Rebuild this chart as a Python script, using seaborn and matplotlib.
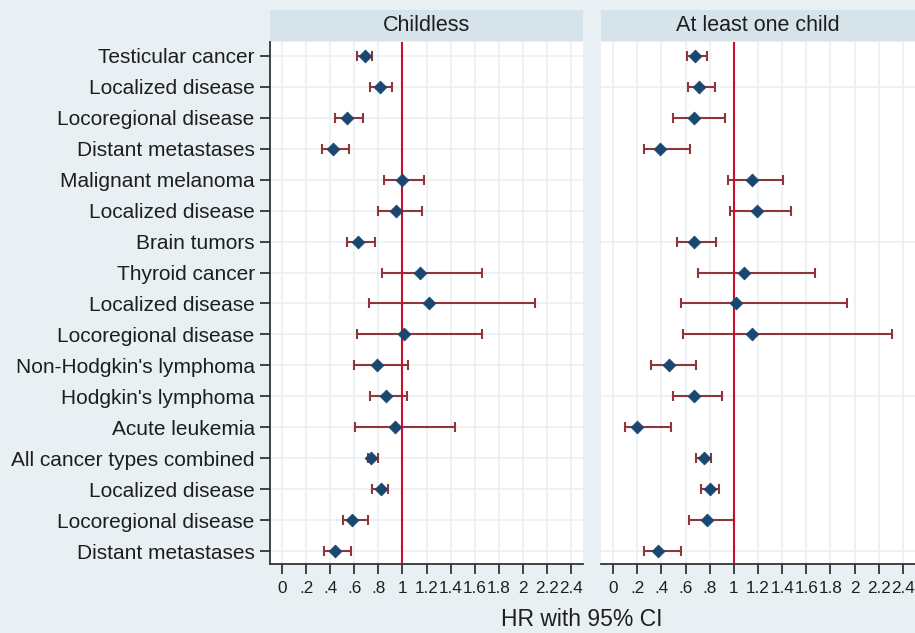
import numpy as np
import pandas as pd
import matplotlib
matplotlib.use("Agg")
import matplotlib.pyplot as plt
from matplotlib.patches import Rectangle
import seaborn as sns

# ---------------- data ----------------
labels = ["Testicular cancer", "Localized disease", "Locoregional disease",
          "Distant metastases", "Malignant melanoma", "Localized disease",
          "Brain tumors", "Thyroid cancer", "Localized disease",
          "Locoregional disease", "Non-Hodgkin's lymphoma", "Hodgkin's lymphoma",
          "Acute leukemia", "All cancer types combined", "Localized disease",
          "Locoregional disease", "Distant metastases"]

panels = ["Childless", "At least one child"]

hr_childless = [0.69, 0.81, 0.54, 0.42, 1.00, 0.95, 0.63, 1.15, 1.22, 1.01,
                0.79, 0.86, 0.94, 0.74, 0.82, 0.58, 0.44]
lo_childless = [0.62, 0.73, 0.44, 0.33, 0.85, 0.80, 0.54, 0.83, 0.72, 0.62,
                0.60, 0.73, 0.61, 0.71, 0.75, 0.51, 0.35]
hi_childless = [0.75, 0.91, 0.67, 0.56, 1.18, 1.16, 0.77, 1.66, 2.10, 1.66,
                1.05, 1.04, 1.44, 0.80, 0.88, 0.71, 0.57]

hr_child = [0.68, 0.71, 0.67, 0.39, 1.15, 1.19, 0.67, 1.08, 1.02, 1.15,
            0.46, 0.67, 0.20, 0.75, 0.80, 0.78, 0.37]
lo_child = [0.61, 0.62, 0.50, 0.26, 0.95, 0.97, 0.53, 0.70, 0.56, 0.58,
            0.31, 0.50, 0.10, 0.69, 0.73, 0.63, 0.26]
hi_child = [0.78, 0.84, 0.93, 0.64, 1.41, 1.47, 0.85, 1.67, 1.94, 2.31,
            0.69, 0.90, 0.48, 0.81, 0.88, 1.00, 0.56]

xticks = [0, 0.2, 0.4, 0.6, 0.8, 1, 1.2, 1.4, 1.6, 1.8, 2, 2.2, 2.4]
xticklabels = ["0", ".2", ".4", ".6", ".8", "1", "1.2", "1.4", "1.6", "1.8",
               "2", "2.2", "2.4"]

# ---------------- style ----------------
sns.set_theme(style="white")
plt.rcParams["font.family"] = ["Liberation Sans", "DejaVu Sans"]

BG = "#E9F0F3"
STRIP = "#D6E3EA"
GRID = "#EAF1F4"
NAVY = "#1A476F"
MAROON = "#90353B"
RED = "#C8102E"
TXT = "#1E1E1E"

frames = []
for pname, hr, lo, hi in [(panels[0], hr_childless, lo_childless, hi_childless),
                          (panels[1], hr_child, lo_child, hi_child)]:
    frames.append(pd.DataFrame({"panel": pname, "label": labels,
                                "pos": np.arange(len(labels)),
                                "hr": hr, "lo": lo, "hi": hi}))
df = pd.concat(frames, ignore_index=True)

W, H = 915, 633
fig = plt.figure(figsize=(W / 100, H / 100), dpi=100)
fig.patch.set_facecolor(BG)

ax_specs = [(270, 583), (601, 915)]
top_px, bot_px = 42, 564
axes = []
for (x0, x1) in ax_specs:
    ax = fig.add_axes([x0 / W, (H - bot_px) / H, (x1 - x0) / W, (bot_px - top_px) / H])
    axes.append(ax)

n = len(labels)
for i, (ax, pname) in enumerate(zip(axes, panels)):
    d = df[df["panel"] == pname]
    ax.set_facecolor("white")
    # grid
    for xt in xticks:
        ax.axvline(xt, color=GRID, lw=1.3, zorder=0)
    grid_rows = range(n) if i == 0 else [1, 6, 11, 16]
    for r in grid_rows:
        ax.axhline(r, color=GRID, lw=1.3, zorder=0)
    # CI
    ax.errorbar(d["hr"], d["pos"],
                xerr=[d["hr"] - d["lo"], d["hi"] - d["hr"]],
                fmt="none", ecolor=MAROON, elinewidth=1.5, capsize=3.6,
                capthick=1.5, zorder=2)
    ax.axvline(1, color=RED, lw=1.5, zorder=3)
    sns.scatterplot(data=d, x="hr", y="pos", marker="D", s=42, color=NAVY,
                    edgecolor=NAVY, linewidth=0.6, zorder=4, ax=ax, legend=False)
    ax.set_xlim(-0.1, 2.5)
    ax.set_ylim(n - 1 + 0.42, -0.45)
    ax.set_xticks(xticks)
    ax.set_xticklabels(xticklabels, fontsize=12.3, color=TXT)
    ax.tick_params(axis="x", length=7, width=1.3, color="#333333", pad=5,
                   direction="out", bottom=True)
    ax.set_xlabel("")
    ax.set_ylabel("")
    for s in ["top", "right"]:
        ax.spines[s].set_visible(False)
    ax.spines["bottom"].set_color("#333333")
    ax.spines["bottom"].set_linewidth(1.3)
    if i == 0:
        ax.set_yticks(range(n))
        ax.set_yticklabels(labels, fontsize=15, color=TXT)
        ax.tick_params(axis="y", length=7, width=1.3, color="#333333", pad=4,
                       direction="out", left=True)
        ax.spines["left"].set_color("#333333")
        ax.spines["left"].set_linewidth(1.3)
    else:
        ax.set_yticks([])
        ax.spines["left"].set_visible(False)

    # strip header
    x0, x1 = ax_specs[i]
    fig.patches.append(Rectangle((x0 / W, (H - 41) / H), (x1 - x0) / W, 31 / H,
                                 transform=fig.transFigure, facecolor=STRIP,
                                 edgecolor="none", zorder=0))
    fig.text((x0 + x1) / 2 / W, (H - 25.5) / H, pname, ha="center", va="center",
             fontsize=15.5, color=TXT)

fig.text(582 / W, (H - 619) / H, "HR with 95% CI", ha="center", va="center",
         fontsize=16.5, color=TXT)

fig.savefig("out.png", dpi=100, facecolor=BG)
